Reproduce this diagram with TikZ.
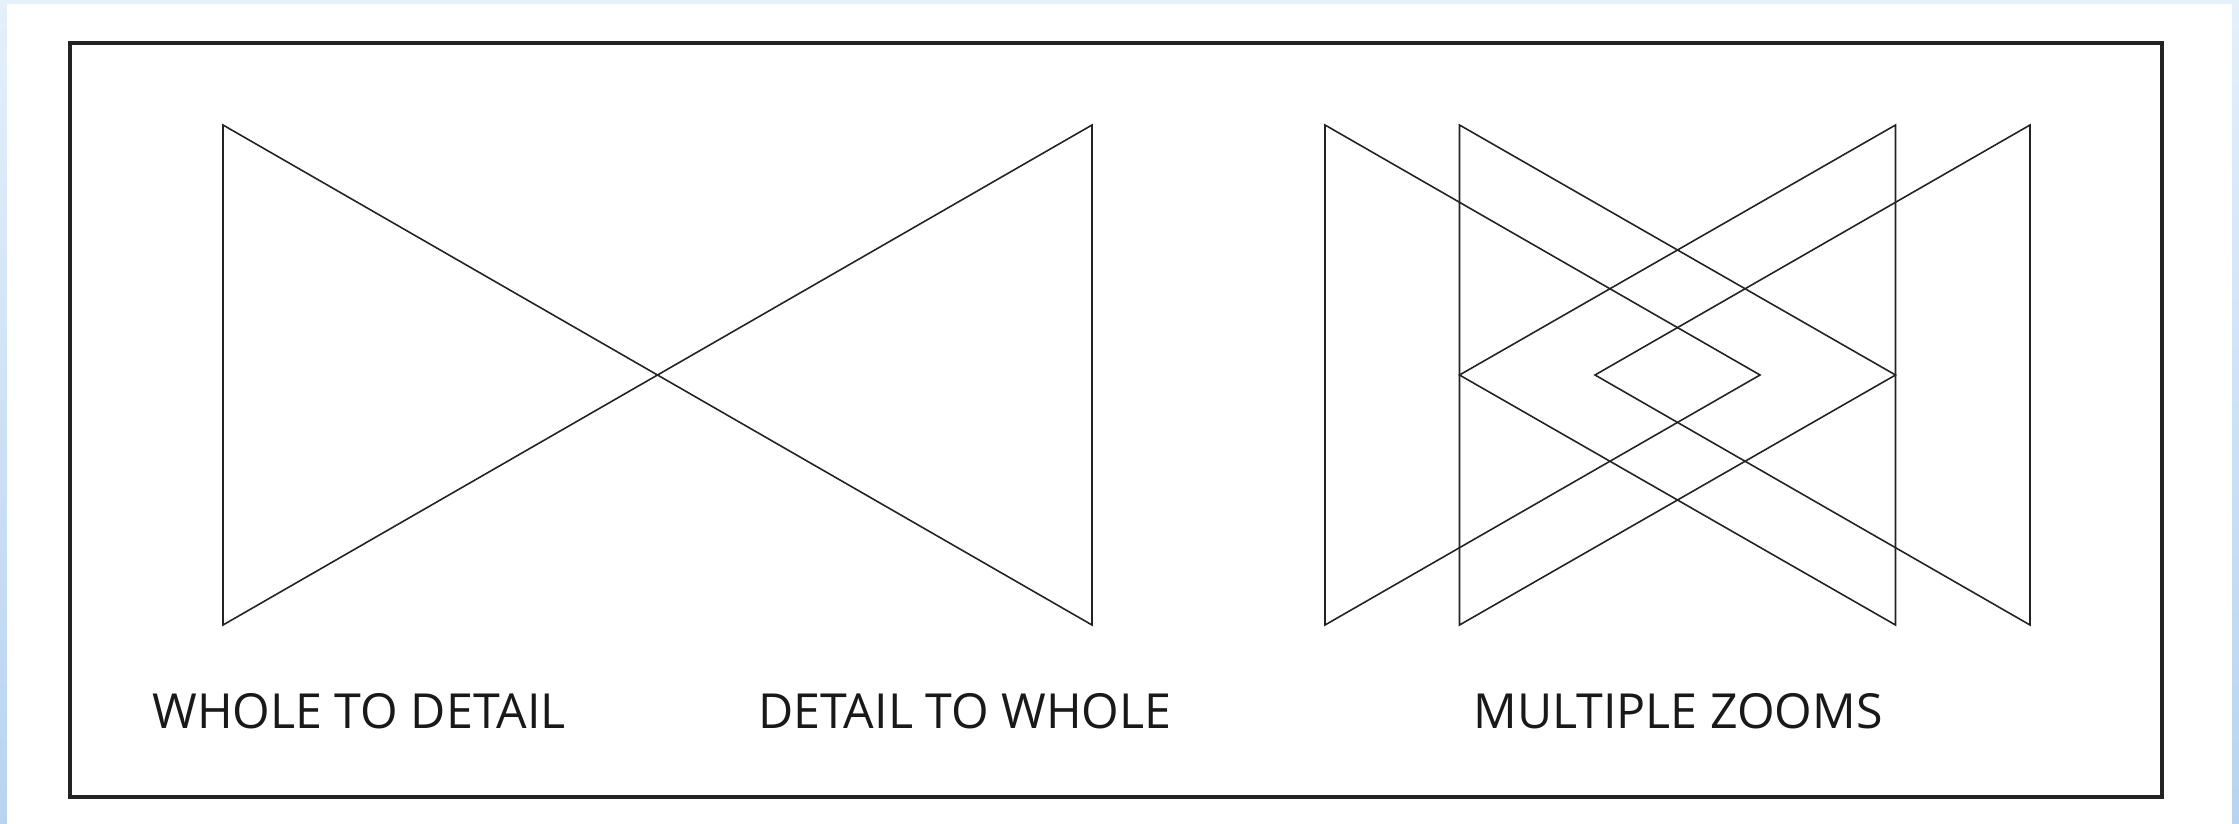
\documentclass[tikz,border=0pt]{standalone}
\usepackage{fontspec}
\setmainfont{Open Sans}
\usetikzlibrary{positioning}
\definecolor{bgTop}{RGB}{228, 240, 251}
\definecolor{bgBot}{RGB}{184, 211, 240}
\definecolor{lineDark}{RGB}{35, 35, 35}

\begin{document}
\begin{tikzpicture}[
    x=0.2mm, y=-0.2mm,
    tri/.style={draw=lineDark, line width=0.9pt, line join=miter},
    frame/.style={draw=lineDark, line width=1.8pt},
    caption/.style={font=\fontsize{27.5}{31}\selectfont, text=black!90, inner sep=0pt, anchor=base}
]

% Page background and sheet
\shade[top color=bgTop, bottom color=bgBot] (0,0) rectangle (2239,824);
\fill[white] (7,4) rectangle (2232,824);
\useasboundingbox (0,0) rectangle (2239,824);

% Outer frame
\draw[frame] (70,43) rectangle (2162,797);

% Triangles: vertical side x / apex x
\foreach \vx/\ax in {223/657.5, 1092/657.5,
                     1325/1760, 1459.5/1895.5, 1895.5/1459.5, 2030/1595}
    \draw[tri] (\vx,125) -- (\vx,625) -- (\ax,375) -- cycle;

% Captions
\node[caption] (wholeDetail) at (359,728) {WHOLE TO DETAIL};
\node[caption] (detailWhole) at (965,728) {DETAIL TO WHOLE};
\node[caption] (multiZoom) at (1678,728) {MULTIPLE ZOOMS};

\end{tikzpicture}
\end{document}
